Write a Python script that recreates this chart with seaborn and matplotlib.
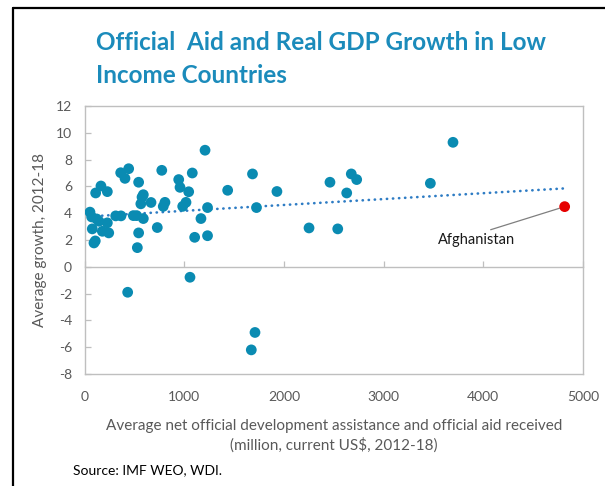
import numpy as np
import pandas as pd
import matplotlib
matplotlib.use("Agg")
import matplotlib.pyplot as plt
import seaborn as sns
from matplotlib.lines import Line2D

# ---- data ----
aid = [55, 72, 78, 95, 108, 112, 122, 145, 165, 179, 229, 229, 243, 313, 366,
       363, 406, 443, 433, 490, 523, 543, 543, 530, 577, 590, 565, 590, 667,
       730, 775, 807, 790, 945, 958, 985, 1018, 1045, 1058, 1081, 1105, 1168,
       1209, 1234, 1234, 1436, 1673, 1685, 1710, 1725, 1930, 2252, 2462, 2540,
       2630, 2676, 2730, 3469, 3696]
growth = [4.08, 3.72, 2.83, 1.78, 1.93, 5.51, 3.57, 3.40, 6.03, 2.65, 5.61, 3.28,
          2.53, 3.80, 3.80, 7.02, 6.60, 7.32, -1.90, 3.82, 3.82, 6.31, 2.53, 1.43,
          5.20, 5.38, 4.70, 3.60, 4.80, 2.93, 7.20, 4.81, 4.51, 6.51, 5.93, 4.51,
          4.81, 5.60, -0.78, 7.00, 2.20, 3.60, 8.70, 4.42, 2.32, 5.71, -6.20, 6.93,
          -4.90, 4.42, 5.62, 2.90, 6.31, 2.83, 5.51, 6.93, 6.51, 6.23, 9.29]
highlight_name = "Afghanistan"
highlight_aid = [4816]
highlight_growth = [4.49]

x_ticks = [0, 1000, 2000, 3000, 4000, 5000]
y_ticks = [-8, -6, -4, -2, 0, 2, 4, 6, 8, 10, 12]

title = "Official  Aid and Real GDP Growth in Low\nIncome Countries"
xlabel = "Average net official development assistance and official aid received\n(million, current US$, 2012-18)"
ylabel = "Average growth, 2012-18"
source = "Source: IMF WEO, WDI."

# ---- styling ----
sns.set_theme(style="white")
plt.rcParams["font.family"] = ["Lato", "DejaVu Sans"]

TEAL = "#0A8BB2"
TITLE_C = "#1B8BBB"
GRAY_T = "#595959"
GRAY_L = "#BFBFBF"

df = pd.DataFrame({"aid": aid + highlight_aid, "growth": growth + highlight_growth})

fig = plt.figure(figsize=(6.05, 4.86), dpi=100)
ax = fig.add_axes([84.5 / 605, 1 - 374 / 486, (583 - 84.5) / 605, (374 - 106) / 486])

sns.scatterplot(x=aid, y=growth, ax=ax, color=TEAL, s=60, edgecolor="none", zorder=3)
sns.scatterplot(x=highlight_aid, y=highlight_growth, ax=ax, color="#E60000", s=60,
                edgecolor="none", zorder=4)
sns.regplot(data=df, x="aid", y="growth", ax=ax, scatter=False, ci=None, truncate=True,
            line_kws=dict(color="#2E7CC4", lw=1.9, linestyle=(0, (0.1, 2.2)),
                          dash_capstyle="round", zorder=2))

ax.set_xlim(x_ticks[0], x_ticks[-1])
ax.set_ylim(y_ticks[0], y_ticks[-1])
ax.set_xticks(x_ticks)
ax.set_yticks(y_ticks)
ax.set_xticklabels([str(v) for v in x_ticks])
ax.set_yticklabels([str(v) for v in y_ticks])
ax.tick_params(axis="x", length=0, pad=12, labelsize=10, labelcolor=GRAY_T)
ax.tick_params(axis="y", direction="in", length=4, width=0.9, color=GRAY_L, pad=9,
               labelsize=10, labelcolor=GRAY_T, left=True)
for sp in ax.spines.values():
    sp.set_visible(True)
    sp.set_color(GRAY_L)
    sp.set_linewidth(1.0)
ax.set_xlabel(xlabel, fontsize=11, color=GRAY_T, labelpad=12, linespacing=1.35)
ax.set_ylabel(ylabel, fontsize=11, color=GRAY_T, labelpad=6)

# zero axis with tick marks pointing up
y0, y1 = ax.get_ylim()
sec = ax.secondary_xaxis((0 - y0) / (y1 - y0))
sec.set_xticks(x_ticks)
sec.tick_params(direction="in", length=4, width=0.9, color=GRAY_L, labelbottom=False,
                labeltop=False)
for sp in sec.spines.values():
    sp.set_color(GRAY_L)
    sp.set_linewidth(1.0)

ax.annotate(highlight_name, xy=(highlight_aid[0], highlight_growth[0]),
            xytext=(3930, 2.0), ha="center", va="center", fontsize=10.5, color="#1a1a1a",
            arrowprops=dict(arrowstyle="-", color="#7F7F7F", lw=0.9, shrinkA=0, shrinkB=4,
                            relpos=(0.55, 1.0)))

fig.text(96 / 605, 1 - 59 / 486, title, fontsize=17.5, fontweight="bold", color=TITLE_C,
         ha="left", va="center", linespacing=1.49)
fig.text(73 / 605, 1 - 470 / 486, source, fontsize=10, color="black", ha="left",
         va="center")

# outer document frame (left and top)
fig.add_artist(Line2D([13 / 605, 13 / 605], [0, 1 - 8 / 486], transform=fig.transFigure,
                      color="black", lw=1.6))
fig.add_artist(Line2D([13 / 605, 1], [1 - 8 / 486, 1 - 8 / 486], transform=fig.transFigure,
                      color="black", lw=1.6))

fig.savefig("out.png", dpi=100)
